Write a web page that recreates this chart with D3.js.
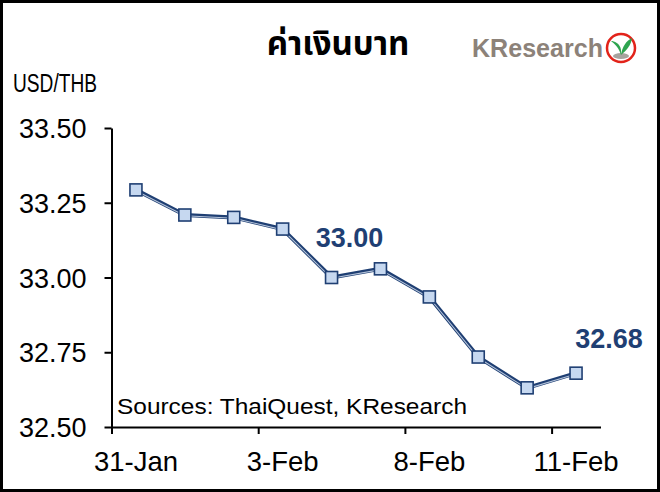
<!DOCTYPE html>
<html>
<head>
<meta charset="utf-8">
<script src="https://cdn.jsdelivr.net/npm/d3@7"></script>
<style>
  html, body { margin: 0; padding: 0; background: #fff; }
  svg { display: block; }
  text { font-family: "Liberation Sans", Arial, sans-serif; }
</style>
</head>
<body>
<svg id="chart" width="660" height="492"></svg>
<script>
// ---- data ----
const categories = ["31-Jan", "1-Feb", "2-Feb", "3-Feb", "4-Feb", "7-Feb", "8-Feb", "9-Feb", "10-Feb", "11-Feb"];
const values = [33.293, 33.209, 33.201, 33.162, 33.00, 33.029, 32.935, 32.734, 32.631, 32.68];
const xTickLabels = ["31-Jan", "3-Feb", "8-Feb", "11-Feb"];
const xTickEdges = [0, 3, 6, 9];
const yTicks = [32.50, 32.75, 33.00, 33.25, 33.50];
const annotIdx = [4, 9];
const annotText = ["33.00", "32.68"];
const title = "ค่าเงินบาท";
const yUnit = "USD/THB";
const source = "Sources: ThaiQuest, KResearch";

const navy = "#1f3f73";
const svg = d3.select("#chart");

// border
svg.append("rect").attr("x", 1.5).attr("y", 1.5).attr("width", 657).attr("height", 489)
  .attr("fill", "#fff").attr("stroke", "#000").attr("stroke-width", 3);

// scales
const x = d3.scaleBand().domain(categories).range([111.5, 600.5]).padding(0);
const xEdge = d3.scaleLinear().domain([0, categories.length]).range([111.5, 600.5]);
const y = d3.scaleLinear().domain([32.5, 33.5]).range([427, 128]);
const cx = d => x(d) + x.bandwidth() / 2;

// title
svg.append("text").attr("x", 338).attr("y", 55).attr("text-anchor", "middle")
  .style("font-family", "'Noto Sans Thai', 'Noto Sans Thai UI', Tahoma, 'Noto Sans', sans-serif")
  .style("font-weight", "bold").style("font-size", "33px").attr("fill", "#000").text(title);

// logo
const logo = svg.append("g");
logo.append("text").attr("x", 472).attr("y", 57).style("font-weight", "bold").style("font-size", "25px")
  .attr("fill", "#8c8279").attr("textLength", 131).attr("lengthAdjust", "spacingAndGlyphs").text("KResearch");
logo.append("circle").attr("cx", 621).attr("cy", 48).attr("r", 14).attr("fill", "#fff")
  .attr("stroke", "#e2231a").attr("stroke-width", 2.5);
logo.append("ellipse").attr("cx", 621).attr("cy", 56).attr("rx", 8).attr("ry", 3).attr("fill", "#a7a39e");
logo.append("path").attr("d", "M621,55 C619,48 615,44 611,41 C614,41 620,43 621,50 Z").attr("fill", "#2ea44f");
logo.append("path").attr("d", "M621,55 C622,47 626,41 632,38 C631,45 627,50 621,55 Z").attr("fill", "#2ea44f");

// y unit label
svg.append("text").attr("x", 13).attr("y", 92).style("font-size", "25px").attr("fill", "#000")
  .attr("textLength", 84).attr("lengthAdjust", "spacingAndGlyphs").text(yUnit);

// y axis
const yAxis = svg.append("g").attr("transform", "translate(111.5,0)")
  .call(d3.axisLeft(y).tickValues(yTicks).tickFormat(d3.format(".2f")).tickSize(7).tickSizeOuter(0).tickPadding(18));
yAxis.selectAll("text").style("font-size", "27px").attr("fill", "#000").attr("dy", "0.36em");
yAxis.selectAll("line").attr("stroke", "#000").attr("stroke-width", 2);
yAxis.select(".domain").attr("stroke", "#000").attr("stroke-width", 2);

// x axis line + edge ticks
const xAxis = svg.append("g").attr("transform", "translate(0,427)")
  .call(d3.axisBottom(xEdge).tickValues(xTickEdges).tickFormat("").tickSize(7).tickSizeOuter(0));
xAxis.selectAll("line").attr("stroke", "#000").attr("stroke-width", 2);
xAxis.select(".domain").attr("stroke", "#000").attr("stroke-width", 2);

// x labels
const xLab = svg.append("g").attr("transform", "translate(0,427)")
  .call(d3.axisBottom(x).tickValues(xTickLabels).tickSize(0).tickPadding(24));
xLab.select(".domain").remove();
xLab.selectAll("text").style("font-size", "27.5px").attr("fill", "#000");

// source
svg.append("text").attr("x", 117).attr("y", 414).style("font-size", "22px").attr("fill", "#000")
  .attr("textLength", 350).attr("lengthAdjust", "spacingAndGlyphs").text(source);

// line
const line = d3.line().x((d, i) => cx(categories[i])).y(d => y(d));
svg.append("path").datum(values).attr("d", line).attr("fill", "none")
  .attr("stroke", navy).attr("stroke-width", 4).attr("stroke-linejoin", "round");
svg.append("path").datum(values).attr("d", line).attr("fill", "none")
  .attr("transform", "translate(0,0.8)")
  .attr("stroke", "#b4c3da").attr("stroke-width", 1.1).attr("stroke-linejoin", "round");

// markers
const ms = 12;
svg.append("g").selectAll("rect").data(values).join("rect")
  .attr("x", (d, i) => cx(categories[i]) - ms / 2)
  .attr("y", d => y(d) - ms / 2)
  .attr("width", ms).attr("height", ms)
  .attr("fill", "#c6d8f0").attr("stroke", navy).attr("stroke-width", 1.6);

// annotations
const annotDx = [18, 33];
const annotDy = [-31, -25];
svg.append("g").selectAll("text").data(annotIdx).join("text")
  .attr("x", (d, i) => cx(categories[d]) + annotDx[i])
  .attr("y", (d, i) => y(values[d]) + annotDy[i])
  .attr("text-anchor", "middle").style("font-weight", "bold").style("font-size", "27px")
  .attr("fill", navy).text((d, i) => annotText[i]);
</script>
</body>
</html>
